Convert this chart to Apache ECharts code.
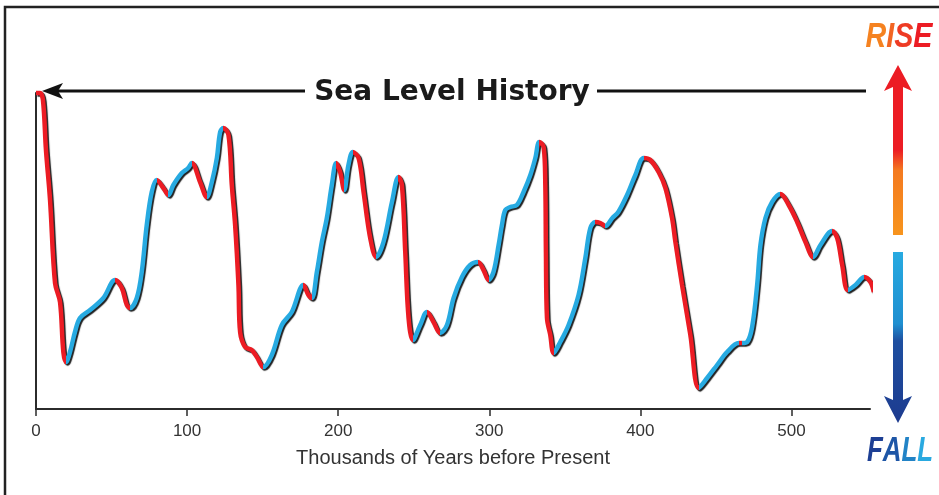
<!DOCTYPE html>
<html>
<head>
<meta charset="utf-8">
<script src="https://cdn.jsdelivr.net/npm/echarts@6/dist/echarts.min.js"></script>
<style>
html,body{margin:0;padding:0;background:#fff;}
#chart{width:939px;height:495px;}
</style>
</head>
<body>
<div id="chart"></div>
<script>
// Thousands of years before present
const years = [0, 2.6, 4.6, 6.6, 9.3, 12.6, 15.9, 18.1, 19.9, 22.5, 25.8, 29.1, 35.8, 44.6, 52.3, 56.8, 60.1, 62.3, 66.7, 70.0,
  73.3, 76.6, 79.9, 84.3, 87.6, 90.9, 96.5, 100.7, 103.1, 108.6, 113.0, 116.4, 119.7, 121.9, 124.0, 127.4, 129.6, 131.8, 134.0, 135.1,
  138.4, 142.8, 146.2, 150.5, 156.1, 162.7, 169.3, 177.0, 180.3, 182.6, 185.9, 189.2, 192.5, 195.8, 198.7, 201.3, 204.0, 206.8, 209.7, 213.5,
  216.8, 221.2, 225.2, 230.0, 235.6, 239.9, 242.2, 244.4, 246.6, 249.5, 254.3, 258.7, 263.1, 267.5, 272.0, 276.4, 281.9, 287.4, 292.5, 296.2,
  299.5, 302.8, 306.2, 308.4, 310.6, 313.9, 318.3, 322.7, 327.2, 330.5, 333.1, 336.0, 337.1, 337.5, 338.2, 340.4, 342.6, 347.0, 352.5, 359.1,
  363.6, 366.9, 370.2, 373.5, 376.8, 381.5, 385.4, 391.2, 396.7, 402.2, 406.6, 412.1, 416.6, 421.0, 423.2, 427.6, 433.1, 438.6, 444.2, 450.8,
  457.4, 465.1, 467.5, 470.7, 474.0, 477.3, 479.5, 482.8, 487.2, 492.7, 498.2, 503.8, 509.3, 514.4, 519.2, 526.9, 530.3, 533.6, 537.3, 542.4,
  548.3, 552.3, 554.5];
// Relative sea level (arbitrary units, higher = higher sea level)
const level = [316, 316, 309, 259, 209, 126, 107, 57, 47, 57, 77, 91, 99, 111, 129, 121, 104, 101, 111, 137,
  184, 217, 229, 221, 214, 224, 236, 241, 246, 227, 212, 227, 251, 277, 281, 274, 224, 184, 124, 77,
  62, 59, 52, 42, 54, 84, 97, 124, 114, 111, 137, 167, 191, 224, 246, 237, 219, 244, 257, 251,
  217, 171, 152, 167, 207, 232, 224, 157, 91, 69, 84, 97, 87, 76, 84, 111, 132, 144, 147, 139,
  129, 137, 164, 184, 199, 202, 204, 217, 234, 251, 267, 262, 224, 157, 91, 74, 56, 67, 84, 114,
  151, 181, 187, 186, 183, 191, 197, 214, 234, 251, 249, 237, 221, 191, 167, 124, 74, 21, 31, 44,
  57, 66, 66, 67, 82, 124, 164, 191, 207, 215, 204, 187, 167, 152, 164, 178, 171, 144, 119, 124,
  132, 127, 117];
const tickLabels = [0, 100, 200, 300, 400, 500];

const RED = '#ec1c24';
const BLUE = '#27aae1';

// colour each stretch by direction: falling (left to right) = red (rise toward present), rising = blue
const pieces = [];
for (let i = 0; i < years.length - 1; i++) {
  const c = level[i + 1] <= level[i] ? RED : BLUE;
  const last = pieces[pieces.length - 1];
  if (last && last.color === c) { last.lt = years[i + 1]; }
  else pieces.push({ gte: years[i], lt: years[i + 1], color: c });
}
pieces[0].gte = -10;
pieces[pieces.length - 1].lt = 1000;

const chart = echarts.init(document.getElementById('chart'));
const grad = (x0, y0, x1, y1, stops) => new echarts.graphic.LinearGradient(x0, y0, x1, y1, stops);
const BIG = 'italic bold 35px "Liberation Sans"';
const rs = (c) => ({ font: BIG, fill: c });

chart.setOption({
  animation: false,
  backgroundColor: '#ffffff',
  grid: { left: 36, top: 93, right: 69, bottom: 86 },
  xAxis: {
    type: 'value', min: 0, max: 552,
    axisLine: { lineStyle: { color: '#2b2b2b', width: 2 } },
    axisTick: { show: true, length: 7, customValues: tickLabels, lineStyle: { color: '#2b2b2b', width: 1.5 } },
    axisLabel: { customValues: tickLabels, color: '#333', fontFamily: 'Liberation Sans', fontSize: 17, margin: 14 },
    splitLine: { show: false },
    name: 'Thousands of Years before Present',
    nameLocation: 'middle', nameGap: 39,
    nameTextStyle: { color: '#333', fontFamily: 'Liberation Sans', fontSize: 20 }
  },
  yAxis: {
    type: 'value', min: 0, max: 316,
    axisLine: { show: true, lineStyle: { color: '#2b2b2b', width: 2 } },
    axisTick: { show: false }, axisLabel: { show: false }, splitLine: { show: false }
  },
  visualMap: { type: 'piecewise', show: false, dimension: 0, seriesIndex: 0, pieces: pieces },
  series: [{
    type: 'line',
    data: years.map((x, i) => [x, level[i]]),
    smooth: 0.35,
    showSymbol: false,
    clip: false,
    lineStyle: { width: 4.5, shadowColor: 'rgba(20,20,20,0.95)', shadowBlur: 1, shadowOffsetX: 1.5, shadowOffsetY: 1.5 }
  }],
  graphic: [
    { type: 'rect', shape: { x: 5, y: 7, width: 1200, height: 800 }, style: { fill: null, stroke: '#222', lineWidth: 2.5 }, silent: true },
    { type: 'line', shape: { x1: 56, y1: 91, x2: 305, y2: 91 }, style: { stroke: '#111', lineWidth: 3 } },
    { type: 'line', shape: { x1: 597, y1: 91, x2: 866, y2: 91 }, style: { stroke: '#111', lineWidth: 3 } },
    { type: 'polygon', shape: { points: [[42, 91], [63, 83], [58, 91], [63, 99]] }, style: { fill: '#111' } },
    { type: 'text', x: 452, y: 93, style: { text: 'Sea Level History', font: 'bold 28px "DejaVu Sans"', fill: '#1a1a1a', textAlign: 'center', textVerticalAlign: 'middle' } },
    // RISE arrow
    { type: 'polygon', shape: { points: [[898, 65], [912, 91], [903, 87], [903, 235], [893, 235], [893, 87], [884, 91]] },
      style: { fill: grad(0, 0, 0, 1, [{ offset: 0, color: RED }, { offset: 0.5, color: RED }, { offset: 0.62, color: '#f47a20' }, { offset: 1, color: '#f7941d' }]) } },
    { type: 'text', x: 899, y: 37, scaleX: 0.82,
      style: { text: '{a|R}{b|I}{c|S}{d|E}', font: BIG, textAlign: 'center', textVerticalAlign: 'middle',
        rich: { a: rs('#f58220'), b: rs('#f26522'), c: rs('#ee3b24'), d: rs('#ec1c24') } } },
    // FALL arrow
    { type: 'polygon', shape: { points: [[893, 252], [903, 252], [903, 400], [912, 396], [898, 423], [884, 396], [893, 400]] },
      style: { fill: grad(0, 0, 0, 1, [{ offset: 0, color: BLUE }, { offset: 0.42, color: '#1f8fd0' }, { offset: 0.52, color: '#1e4fa0' }, { offset: 1, color: '#1d3b8f' }]) } },
    { type: 'text', x: 900, y: 451, scaleX: 0.74,
      style: { text: '{a|F}{b|A}{c|L}{d|L}', font: BIG, textAlign: 'center', textVerticalAlign: 'middle',
        rich: { a: rs('#1d3f94'), b: rs('#1e56a6'), c: rs('#2283c6'), d: rs('#29a9e0') } } }
  ]
});
</script>
</body>
</html>
